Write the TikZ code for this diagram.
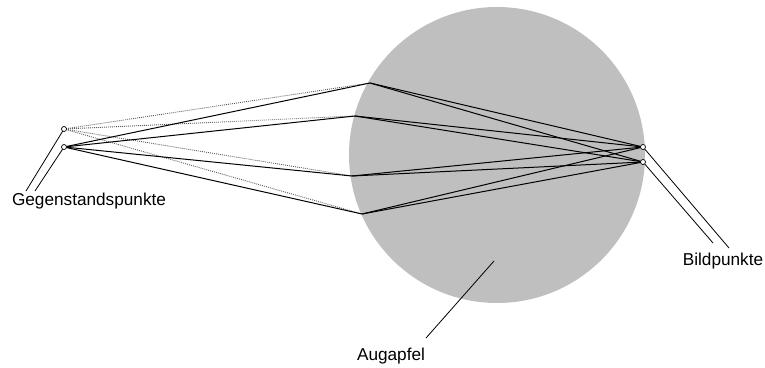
\documentclass[tikz,border=0pt]{standalone}
\usepackage{fontspec}
\setmainfont{Liberation Sans}
\begin{document}
\begin{tikzpicture}[x=1pt,y=-1pt,
  ray/.style={line width=1.0pt,black},
  dray/.style={line width=0.9pt,black!65,dash pattern=on 0.9pt off 1.1pt},
  lead/.style={line width=0.8pt,black},
  pt/.style={circle,draw=black,fill=white,line width=0.7pt,inner sep=0pt,minimum size=5pt},
  lbl/.style={font=\fontsize{17.2}{20}\selectfont,inner sep=0pt}]
\useasboundingbox (0,0) rectangle (765,367);
% eyeball
\fill[gray!50] (497,155) circle[radius=148];
% refraction points on the cornea
\coordinate (p1) at (370,83);
\coordinate (p2) at (355,116);
\coordinate (p3) at (352,176);
\coordinate (p4) at (362,214);
% object and image points
\coordinate (a) at (64,129);
\coordinate (b) at (64,147);
\coordinate (c) at (643,147);
\coordinate (d) at (643,162);
% rays from the upper object point (dotted outside)
\foreach \p in {p1,p2,p3,p4} \draw[dray] (a) -- (\p);
\foreach \p in {p1,p2,p3,p4} \draw[ray] (\p) -- (d);
% rays from the lower object point
\foreach \p in {p1,p2,p3,p4} \draw[ray] (b) -- (\p);
\foreach \p in {p1,p2,p3,p4} \draw[ray] (\p) -- (c);
% labels and leaders
\node[lbl] (gp) at (89,201) {Gegenstandspunkte};
\node[lbl] (bp) at (723,261) {Bildpunkte};
\node[lbl] (ap) at (391,356) {Augapfel};
\coordinate (ga) at (26,191);
\coordinate (gb) at (35,191);
\coordinate (bc) at (729,248);
\coordinate (bd) at (713,243);
\coordinate (ae) at (494,261);
\coordinate (af) at (426,338);
\draw[lead] (a) -- (ga);
\draw[lead] (b) -- (gb);
\draw[lead] (c) -- (bc);
\draw[lead] (d) -- (bd);
\draw[lead] (ae) -- (af);
\node[pt] (na) at (a) {};
\node[pt] (nb) at (b) {};
\node[pt] (nc) at (c) {};
\node[pt] (nd) at (d) {};
\end{tikzpicture}
\end{document}
